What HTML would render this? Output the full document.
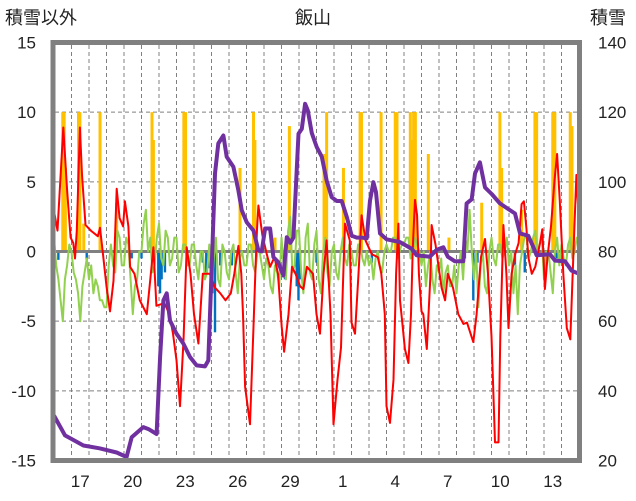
<!DOCTYPE html>
<html><head><meta charset="utf-8"><style>
html,body{margin:0;padding:0;background:#fff;}
svg{display:block;font-family:"Liberation Sans","Noto Sans CJK JP",sans-serif;}
</style></head><body>
<svg id="chart" width="636" height="501" viewBox="0 0 636 501">
<text x="313" y="24" font-size="18" text-anchor="middle" fill="#222">飯山</text>
<text x="5" y="24" font-size="18" fill="#222">積雪以外</text>
<text x="590" y="24" font-size="18" fill="#222">積雪</text>
<g id="grid"></g><g id="bars"></g><g id="lines"></g><g id="axes"></g>
<rect x="53" y="42.5" width="526.5" height="418" fill="none" stroke="#808080" stroke-width="5"/>
</svg>
<script>
const leftTicks=[15,10,5,0,-5,-10,-15];
const rightTicks=[140,120,100,80,60,40,20];
const dayLabels=["17","20","23","26","29","1","4","7","10","13"];
const dayLabelPos=[1,4,7,10,13,16,19,22,25,28];
const redT=[0,0.2,0.53,0.75,0.95,1.1,1.2,1.3,1.48,1.6,1.8,2.1,2.5,2.63,2.8,3.0,3.2,3.4,3.58,3.75,3.95,4.05,4.25,4.35,4.6,4.9,5.3,5.5,5.68,5.85,6.3,6.6,6.8,7.0,7.2,7.4,7.58,7.8,8.0,8.25,8.5,8.9,9.2,9.5,9.8,10.1,10.3,10.54,10.7,10.8,10.92,11.2,11.4,11.5,11.6,11.68,11.9,12.16,12.35,12.6,12.8,13.01,13.15,13.4,13.6,13.8,14.06,14.25,14.45,14.8,15.0,15.2,15.4,15.58,15.8,15.97,16.2,16.4,16.55,16.63,16.9,17.0,17.2,17.4,17.58,17.8,18.16,18.5,18.7,18.9,19.0,19.2,19.4,19.55,19.68,19.77,19.9,20.05,20.25,20.4,20.5,20.63,20.75,20.85,21.0,21.1,21.3,21.5,21.58,21.8,22.0,22.15,22.35,22.5,22.8,23.1,23.4,23.6,23.96,24.15,24.4,24.63,24.8,25.0,25.2,25.4,25.5,25.68,25.85,25.97,26.15,26.35,26.55,26.72,26.85,27.0,27.1,27.3,27.5,27.77,27.9,28.05,28.2,28.4,28.6,28.75,28.9,29.1,29.3,29.5,29.7,29.85,30.0];
const redV=[2.9,1.5,8.9,4.4,1.0,0.6,-0.5,1.5,8.9,5.5,1.9,1.5,1.1,1.7,-0.2,-2.5,-4.3,-2.1,4.5,2.4,1.8,3.6,1.8,-1.1,-1.6,-3.5,-4.5,-2.0,0.3,-3.9,-3.7,-4.5,-5.9,-7.8,-11.1,-6.4,0.3,-1.6,-4.5,-6.6,-1.6,-1.6,-2.6,-3.0,-3.5,-3.0,-1.6,0.4,-1.6,-4.5,-9.7,-12.4,-5.4,-1.6,1.6,3.3,1.2,-0.2,-1.1,-0.4,-1.6,-5.4,-7.2,-4.5,-1.1,-1.6,-2.5,-2.7,-1.1,-1.6,-4.5,-5.9,-1.6,0.8,-4.5,-12.4,-9.2,-6.9,-0.9,2.0,0.8,-5.1,-5.9,-1.6,2.6,0.8,-0.2,-0.4,-1.6,-4.5,-11.1,-12.3,-9.2,-1.6,2.0,-3.5,-5.1,-7.0,-8.0,-4.5,0.3,3.7,2.6,-1.6,-4.3,-4.5,-7.0,-1.9,1.9,0.5,-1.3,-2.6,-3.5,-1.6,-2.6,-4.5,-5.2,-5.1,-6.5,-4.5,-0.4,0.9,-1.6,-6.1,-13.7,-13.7,-6.1,1.9,-1.6,-5.5,-1.6,-0.2,0.6,3.4,3.6,1.6,-0.4,-1.6,-1.1,0.6,1.6,-2.7,-0.4,1.8,5.1,7.0,3.6,-1.6,-5.5,-6.3,0.6,5.5,2.1,0.0];
const snowT=[0,0.63,1.68,2.6,3.58,4.15,4.44,5.1,5.4,5.86,6.06,6.25,6.44,6.63,7.0,7.39,7.77,8.15,8.63,8.82,9.0,9.2,9.39,9.68,9.87,10.25,10.54,10.73,11.01,11.4,11.68,11.87,12.06,12.35,12.54,12.8,13.11,13.3,13.5,13.68,13.97,14.16,14.35,14.5,14.73,15.01,15.3,15.58,15.87,16.16,16.44,16.73,17.01,17.3,17.6,17.87,18.06,18.25,18.4,18.63,19.0,19.77,20.44,20.72,21.48,21.87,22.25,22.5,22.91,23.39,23.58,23.87,24.06,24.34,24.63,25.01,25.48,25.87,26.34,26.63,27.1,27.39,27.58,28.34,28.63,29.2,29.58,30.0];
const snowV=[32.9,27.2,24.3,23.5,22.3,21.0,26.7,29.6,29.0,27.6,49.7,66.0,68.0,60.2,56.4,53.6,49.7,47.3,47.0,48.7,73.7,102.4,111.0,113.3,107.2,104.3,97.5,91.8,88.4,86.0,80.3,80.0,86.6,86.6,78.4,77.0,73.1,84.1,82.5,84.0,113.8,115.2,122.4,120.5,114.0,110.0,107.2,100.4,95.6,94.5,94.5,89.9,84.5,84.0,84.0,83.8,94.6,99.9,97.0,85.2,83.5,82.7,80.8,78.9,78.5,80.5,81.2,78.5,77.2,77.2,93.8,95.0,102.4,105.6,98.4,96.5,93.8,92.5,90.9,85.2,84.5,81.3,78.9,79.2,77.4,77.2,74.5,73.6];
const greenV=[1,-1,-2,-3.5,-5,-2,-1,0.5, 0,-1.5,-2,-3,-5,-2.5,-1.5,-0.5, -2,-1,-3,-2,-2.5,-3.5,-3.5,-4, -4,-1,0.5,-1,-1.5,1.5,1,-1, -1,1,0.5,-2,-4.5,-2.5,-2,0, 0,2,3,0,1,-1.5,-1,1, 2,-0.5,-1,1.5,1,-1,-0.5,1, 1,-1.5,-1,0.5,0.5,-1,-1,0.5, 0.5,-1,-2,0,0,-2,-1.5,0.5, -3,-0.5,1,-2,-2.5,0.5,0,-1.5, -2,0,0.5,-1.5,-3,-0.5,0,-1, -1,0.5,0.5,-1,-1.5,0,0,-1, -2,-0.5,-1,-2.5,-3,-1,-1.5,-2.5, 1,-1,-2,1.5,2.5,-1.5,-1,1.5, 1.5,-1.5,-3,1,2,-1.5,-2,0.5, 1.5,-2,-3,0,1,-1.5,-2.5,0, 0.5,-1.5,-2,0,1,-0.5,-1,0.5, 0,-1,-1,0.5,0.5,-0.5,-1,0, -1,-0.5,-2,-0.5,0,-1,-1.5,0, 0.5,0,0,1,1,-0.5,0,0.5, 0.5,1,1,-0.5,0,1,0.5,0, -1,0,-2.5,-1,0,-2,-3,-1, -1.5,-0.5,-3,-1.5,-1,-2.5,-2.5,-1, -3,-1,0,-2,1,0,3,0, -2,0,-4,-1,0,-2.5,-3,0, 1,-0.5,-1,0.5,0.5,-0.5,0,1, -1,0,-3,-1,-4.5,-1,0,1, 1,-0.5,0,1,1.5,0,0.5,1, -2,0,0,-1.5,-3,0,1,-1, 0.5,-0.5,-1,0.5,1,-0.5,0,1, 0.5];
const precipT=[0.5,0.58,0.65,1.4,1.48,1.7,2.63,3.58,5.6,5.68,7.42,7.52,10.63,11.4,11.48,12.63,13.45,15.43,15.58,16.54,17.49,17.57,18.69,19.5,19.6,20.36,20.45,20.55,20.65,21.39,22.57,24.44,25.48,25.58,26.72,27.48,27.58,28.5,28.62,29.5,29.6];
const precipV=[10,10,6,10,10,2,10,3.5,10,8,10,10,6,10,8,1,9,7,10,6,10,10,10,10,10,10,8,10,10,7,1,3.5,10,6,3,10,10,10,10,10,9];
const negT=[0.25,1.87,4.44,5.0,5.96,6.06,6.15,6.34,8.5,8.7,8.9,9.05,9.2,9.5,10.16,13.2,13.87,13.97,14.06,15.0,18.16,23.48,23.96,24.2,26.34,26.9,28.72];
const negV=[-0.6,-0.6,-0.5,-0.5,-2.5,-3,-2,-1.5,-0.8,-1.5,-1.2,-3,-5.8,-1,-1,-2,-2.5,-3.5,-2,-0.8,-0.8,-0.5,-3.5,-0.8,-1,-1.5,-0.5];

const NS='http://www.w3.org/2000/svg';
const X=t=>54+17.5*t;
const YL=v=>251.5-v*418/30;
const YR=v=>460.5-(v-20)*418/120;
function mk(tag,attrs,parent){const e=document.createElementNS(NS,tag);for(const k in attrs)e.setAttribute(k,attrs[k]);document.getElementById(parent).appendChild(e);return e;}

leftTicks.forEach(v=>{
  if(v!==15&&v!==-15&&v!==0){const g=mk('line',{x1:55,x2:578,y1:YL(v),y2:YL(v),stroke:'#808080','stroke-width':1,'stroke-dasharray':'4,3'},'grid');
  
  }
  const t=mk('text',{x:36,y:YL(v)+6,'font-size':17,'text-anchor':'end',fill:'#222'},'axes');t.textContent=v;
  
  
});
rightTicks.forEach(v=>{
  const t=mk('text',{x:598,y:YR(v)+6,'font-size':17,fill:'#222'},'axes');t.textContent=v;
  
  
});
for(let d=1;d<30;d++){
  const g=mk('line',{x1:X(d),x2:X(d),y1:45,y2:458,stroke:'#808080','stroke-width':1,'stroke-dasharray':'4,3'},'grid');
  
  
}
dayLabels.forEach((s,i)=>{
  const t=mk('text',{x:X(dayLabelPos[i]+0.5),y:487,'font-size':17,'text-anchor':'middle',fill:'#222'},'axes');t.textContent=s;
  
  
});
precipT.forEach((t,i)=>{
  const v=Math.min(precipV[i],10);
  const r=mk('rect',{x:X(t)-1.5,y:YL(v),width:3,height:YL(0)-YL(v),fill:'#FFC000'},'bars');
  
  
});
negT.forEach((t,i)=>{
  const r=mk('rect',{x:X(t)-1.2,y:YL(0),width:2.4,height:YL(negV[i])-YL(0),fill:'#0070C0'},'bars');
  
  
});
const zl=mk('line',{x1:55,x2:578,y1:YL(0),y2:YL(0),stroke:'#808080','stroke-width':3},'bars');



const gp=greenV.map((v,i)=>X(i*0.125).toFixed(1)+','+YL(v).toFixed(1)).join(' ');
const gl=mk('polyline',{points:gp,fill:'none',stroke:'#92D050','stroke-width':2,'stroke-linejoin':'round'},'lines');


const rp=redT.map((t,i)=>X(t).toFixed(1)+','+YL(redV[i]).toFixed(1)).join(' ');
const rl=mk('polyline',{points:rp,fill:'none',stroke:'#FF0000','stroke-width':2,'stroke-linejoin':'round'},'lines');


const sp=snowT.map((t,i)=>X(t).toFixed(1)+','+YR(snowV[i]).toFixed(1)).join(' ');
const sl=mk('polyline',{points:sp,fill:'none',stroke:'#7030A0','stroke-width':4,'stroke-linejoin':'round'},'lines');


</script>
</body></html>
